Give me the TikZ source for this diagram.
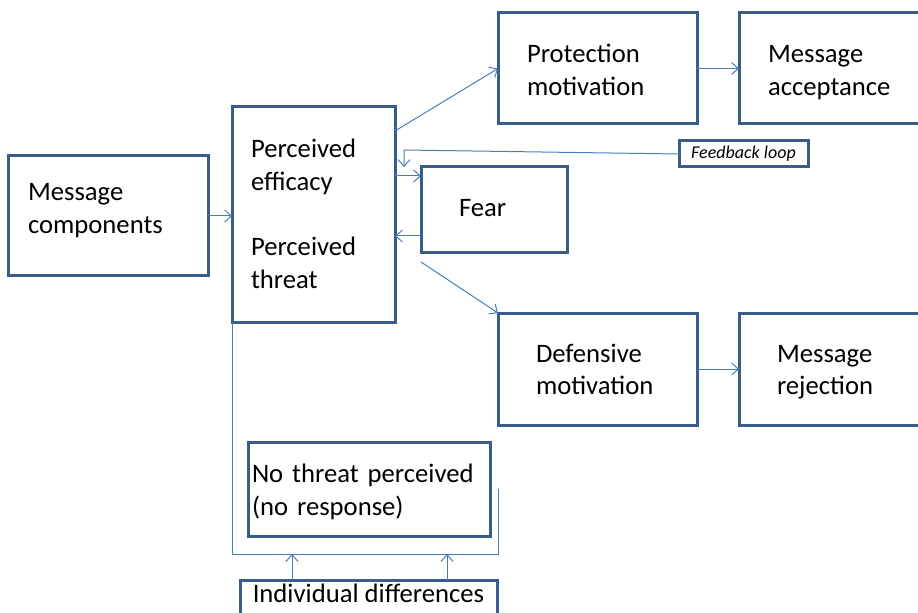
\documentclass[tikz,border=0pt]{standalone}
\usepackage{fontspec}
\setmainfont{Carlito}
\usetikzlibrary{arrows.meta}
\definecolor{boxblue}{RGB}{56,93,138}
\definecolor{arrowblue}{RGB}{74,126,187}
\begin{document}
\begin{tikzpicture}[x=0.75pt,y=-0.75pt]
    \tikzstyle{stage}=[draw=boxblue,line width=2.25pt,outer sep=0pt,inner ysep=0pt,anchor=north west,align=left,text height=0pt,font=\fontsize{20}{24.5}\selectfont]
    \tikzstyle{edge}=[draw=arrowblue,line width=0.75pt,-{Straight Barb[length=5pt,width=9pt]}]
    \tikzstyle{link}=[draw=arrowblue,line width=0.75pt]
    \useasboundingbox (0,0) rectangle (918,613);
    \clip (0,0) rectangle (918,613);
    % boxes
    \node [stage,minimum height=90pt,inner xsep=15pt,text width=120pt,text depth=23pt] (comp) at (8,156) {Message\\components};
    \node [stage,minimum height=161.25pt,inner xsep=14.25pt,text width=93.75pt,text depth=85pt] (perc) at (232,107) {Perceived\\efficacy\\[24.25pt]Perceived\\threat};
    \node [stage,minimum height=83.25pt,inner xsep=21.75pt,text width=105.75pt,text depth=9pt] (prot) at (498,13) {Protection\\motivation};
    \node [stage,minimum height=83.25pt,inner xsep=21.75pt,text width=106.5pt,text depth=9pt] (acc) at (739,13) {Message\\acceptance};
    \node [stage,minimum width=96.75pt,minimum height=19.5pt,inner xsep=0pt,align=center,text height=,font=\fontsize{13.5}{16}\selectfont\itshape] (fb) at (679,141) {Feedback loop};
    \node [stage,minimum height=64.5pt,inner xsep=28.5pt,text width=52.5pt,text height=9.6pt,text depth=0pt] (fear) at (421,167) {Fear};
    \node [stage,minimum height=84pt,inner xsep=28.5pt,text width=92.25pt,text depth=10pt] (def) at (498,313) {Defensive\\motivation};
    \node [stage,minimum height=84pt,inner xsep=28.5pt,text width=93pt,text depth=10pt] (rej) at (739,313) {Message\\rejection};
    \node [stage,minimum height=70.5pt,inner xsep=3pt,text width=175.5pt,text depth=10pt] (none) at (248,442) {No threat perceived\\(no response)};
    \node [stage,minimum width=192.75pt,inner xsep=2pt,inner ysep=3pt,text height=14pt,text depth=40pt,align=center] (ind) at (240,580) {Individual differences};
    % turning points
    \coordinate (fbturn) at (404,150);
    \coordinate (fearin) at ([yshift=-6.75pt]fear.north west);
    \coordinate (fearout) at ([yshift=12.75pt]fear.south west);
    \coordinate (loopL) at (232,554);
    \coordinate (loopR) at (498,554);
    \coordinate (indA) at (292,554);
    \coordinate (indB) at (447,554);
    % connectors
    \path[edge] (comp.east) -- (perc.west |- comp.east);
    \path[edge] ([yshift=-18pt]perc.north east) -- (prot.west);
    \path[edge] (prot.east) -- (acc.west);
    \path[edge] (fb.west) -- (fbturn) -- (fbturn |- fear.north);
    \path[edge] (perc.east |- fearin) -- (fearin);
    \path[edge] (fearout) -- (perc.east |- fearout);
    \path[edge] ([yshift=-6.75pt]fear.south west) -- (def.north west);
    \path[edge] (def.east) -- (rej.west);
    \path[link] (perc.south west) -- (loopL) -- (loopR) -- (loopR |- none.east);
    \path[edge] (indA |- ind.north) -- (indA);
    \path[edge] (indB |- ind.north) -- (indB);
\end{tikzpicture}
\end{document}
